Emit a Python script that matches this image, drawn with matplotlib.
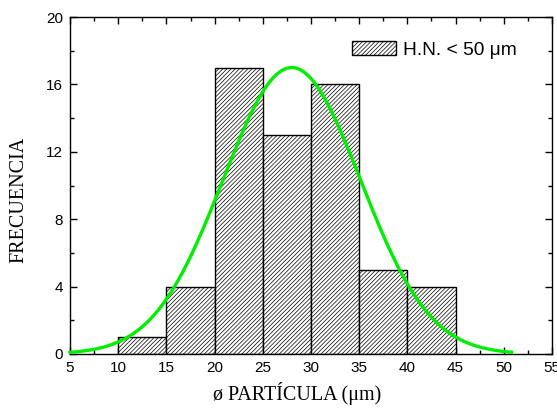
import numpy as np
import matplotlib.pyplot as plt
from matplotlib.ticker import MultipleLocator

plt.rcParams['hatch.linewidth'] = 0.5

# Histogram data
bin_left = [10, 15, 20, 25, 30, 35, 40]
counts = [1, 4, 17, 13, 16, 5, 4]
bin_width = 5

# Gaussian fit parameters
fit_amp = 17.0
fit_mu = 28.0
fit_sigma = 7.15
fit_x0, fit_x1 = 5.0, 50.8

fig = plt.figure(figsize=(5.57, 4.11), dpi=100)
ax = fig.add_axes([0.1257, 0.1387, 0.8653, 0.8199])

ax.bar(bin_left, counts, width=bin_width, align='edge', color='white',
       edgecolor='black', linewidth=1.0, hatch='////////', label='H.N. < 50 μm', zorder=2)

xf = np.linspace(fit_x0, fit_x1, 300)
yf = fit_amp * np.exp(-(xf - fit_mu) ** 2 / (2 * fit_sigma ** 2))
ax.plot(xf, yf, color='#00ee00', linewidth=2.4, zorder=3, clip_on=False)

ax.set_xlim(5, 55)
ax.set_ylim(0, 20)
ax.xaxis.set_major_locator(MultipleLocator(5))
ax.xaxis.set_minor_locator(MultipleLocator(2.5))
ax.yaxis.set_major_locator(MultipleLocator(4))
ax.yaxis.set_minor_locator(MultipleLocator(2))
ax.tick_params(which='both', direction='in', top=True, right=True,
               labelfontfamily='Liberation Sans', labelsize=11, width=1.0)
ax.tick_params(which='major', length=5, pad=5)
ax.tick_params(which='minor', length=3)
for s in ax.spines.values():
    s.set_linewidth(1.0)

ax.set_xlabel('ø PARTÍCULA (μm)', family='Liberation Serif', fontsize=14.5, labelpad=5)
ax.set_ylabel('FRECUENCIA', family='Liberation Serif', fontsize=14.5, labelpad=13)
ax.xaxis.label.set_x(0.471)
ax.yaxis.label.set_y(0.457)

leg = ax.legend(loc='upper left', bbox_to_anchor=(0.585, 0.93), frameon=False,
                prop={'family': 'Liberation Sans', 'size': 13.8},
                borderpad=0, borderaxespad=0,
                handlelength=2.3, handleheight=0.8, handletextpad=0.35)

fig.savefig('out.png', dpi=100)
